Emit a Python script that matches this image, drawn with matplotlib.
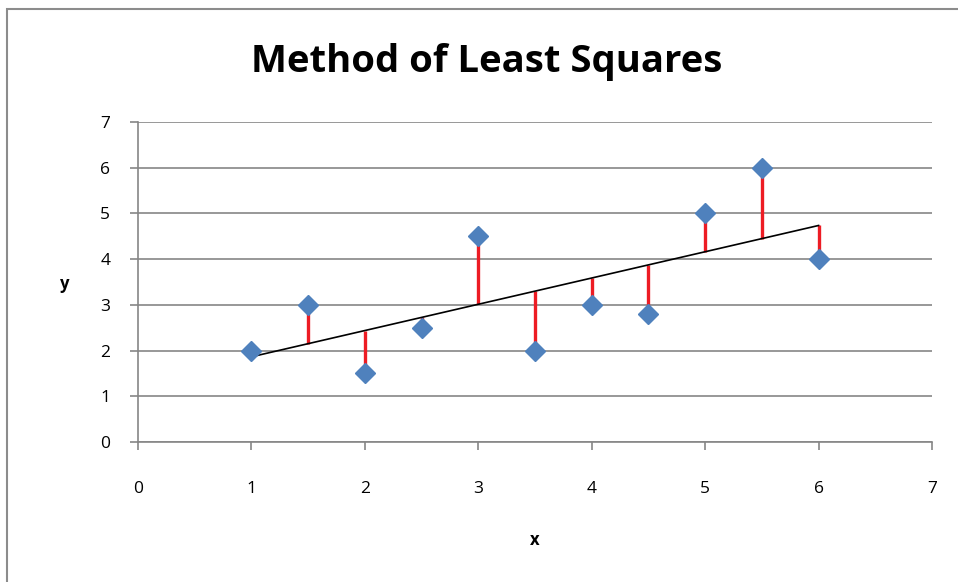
import matplotlib.pyplot as plt
import numpy as np
from matplotlib.patches import Rectangle

x_vals = [1, 1.5, 2, 2.5, 3, 3.5, 4, 4.5, 5, 5.5, 6]
y_vals = [2, 3, 1.5, 2.5, 4.5, 2, 3, 2.8, 5, 6, 4]
ticks = [0, 1, 2, 3, 4, 5, 6, 7]

plt.rcParams['font.family'] = ['Open Sans', 'DejaVu Sans']

x = np.array(x_vals)
y = np.array(y_vals)
slope, icpt = np.polyfit(x, y, 1)
fit = slope * x + icpt

fig = plt.figure(figsize=(9.58, 5.82), dpi=100)
fig.patches.append(Rectangle((7 / 958, -0.1), 1.2, 1 - 9 / 582 + 0.1, transform=fig.transFigure,
                             fill=False, edgecolor='#8c8c8c', linewidth=1.5))
ax = fig.add_axes([138 / 958, 1 - 442 / 582, 794 / 958, 320 / 582])

ax.vlines(x, fit, y, color='#ed1c24', linewidth=2.4, zorder=2)
ax.plot([x[0], x[-1]], [fit[0], fit[-1]], color='black', linewidth=1.2, zorder=3)
ax.plot(x, y, linestyle='none', marker='D', markersize=10, color='#4f81bd', zorder=4)

ax.set_xlim(0, 7)
ax.set_ylim(0, 7)
ax.set_xticks(ticks)
ax.set_yticks(ticks)
ax.grid(axis='y', color='#868686', linewidth=1.2)
ax.set_axisbelow(True)
for s in ['top', 'right']:
    ax.spines[s].set_visible(False)
for s in ['left', 'bottom']:
    ax.spines[s].set_color('#868686')
    ax.spines[s].set_linewidth(1.2)
ax.tick_params(direction='out', length=6, width=1.2, color='#868686', labelsize=12.5)
ax.tick_params(axis='y', pad=14)
ax.tick_params(axis='x', pad=22)

fig.text(487 / 958, 1 - 62 / 582, 'Method of Least Squares', fontsize=27.5, fontweight='bold',
         ha='center', va='center')
fig.text(535 / 958, 1 - 540 / 582, 'x', fontsize=12, fontweight='bold', ha='center', va='center')
fig.text(65 / 958, 1 - 284 / 582, 'y', fontsize=12, fontweight='bold', ha='center', va='center')

fig.savefig('out.png', dpi=100)
